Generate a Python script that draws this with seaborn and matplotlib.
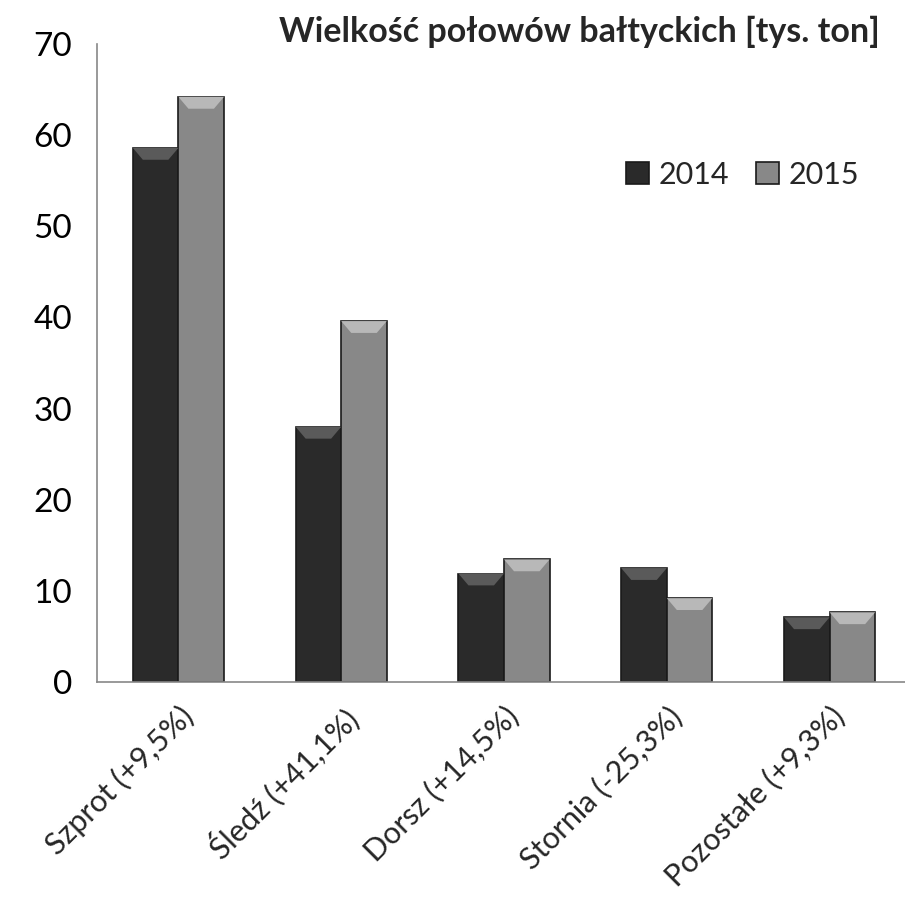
import matplotlib
matplotlib.use("Agg")
import matplotlib.pyplot as plt
from matplotlib.patches import Polygon
import seaborn as sns
import pandas as pd

categories = ["Szprot (+9,5%)", "Śledź (+41,1%)", "Dorsz (+14,5%)",
              "Stornia (-25,3%)", "Pozostałe (+9,3%)"]
years = ["2014", "2015"]
values_2014 = [58.6, 28.0, 11.9, 12.5, 7.1]
values_2015 = [64.2, 39.6, 13.45, 9.2, 7.65]
title = "Wielkość połowów bałtyckich [tys. ton]"

df = pd.DataFrame({
    "Gatunek": categories * 2,
    "Rok": [years[0]] * len(categories) + [years[1]] * len(categories),
    "Wartość": values_2014 + values_2015,
})

sns.set_style("white")
plt.rcParams["font.family"] = ["Lato", "DejaVu Sans"]

fig = plt.figure(figsize=(9.05, 9.19), dpi=100)
ax = fig.add_axes([97 / 905, 1 - 682 / 919, (911 - 97) / 905, (682 - 44) / 919])

palette = {"2014": "#2a2a2a", "2015": "#888888"}
sns.barplot(data=df, x="Gatunek", y="Wartość", hue="Rok", palette=palette,
            width=0.56, dodge=True, saturation=1, ax=ax,
            edgecolor="#1a1a1a", linewidth=1.2)

# bevel highlight on top of each bar
for bar in ax.patches:
    h = bar.get_height()
    if h <= 0:
        continue
    x0 = bar.get_x()
    w = bar.get_width()
    dark = bar.get_facecolor()[0] < 0.3
    top_col = "#5a5a5a" if dark else "#b8b8b8"
    inset = w * 0.22
    band = 1.3
    ax.add_patch(Polygon([(x0, h), (x0 + w, h), (x0 + w - inset, h - band),
                          (x0 + inset, h - band)], closed=True,
                         facecolor=top_col, edgecolor="none", zorder=3))

ax.set_xlim(-0.5, len(categories) - 0.5)
ax.set_ylim(0, 70)
ax.set_yticks(range(0, 71, 10))
ax.set_xlabel("")
ax.set_ylabel("")

ax.tick_params(axis="y", labelsize=24, length=6, width=1.2, color="#888888",
               pad=12, labelcolor="black")
ax.set_xticks(range(len(categories)))
ax.set_xticklabels(categories, rotation=45, ha="right", rotation_mode="anchor",
                   fontsize=22)
ax.tick_params(axis="x", which="major", length=0, pad=14)
ax.set_xticks([i - 0.5 for i in range(len(categories) + 1)], minor=True)
ax.tick_params(axis="x", which="minor", length=8, width=1.2, color="#888888")

sns.despine(ax=ax, top=True, right=True)
for side in ["left", "bottom"]:
    ax.spines[side].set_color("#888888")
    ax.spines[side].set_linewidth(1.2)

ax.legend(title=None, loc="upper right", bbox_to_anchor=(0.97, 0.86), ncol=2,
          frameon=False, fontsize=22, handlelength=0.75, handleheight=0.75,
          handletextpad=0.3, columnspacing=0.9)

fig.text(880 / 905, 1 - 32 / 919, title, ha="right", va="center",
         fontsize=24.5, fontweight="bold")

fig.savefig("out.png", dpi=100)
